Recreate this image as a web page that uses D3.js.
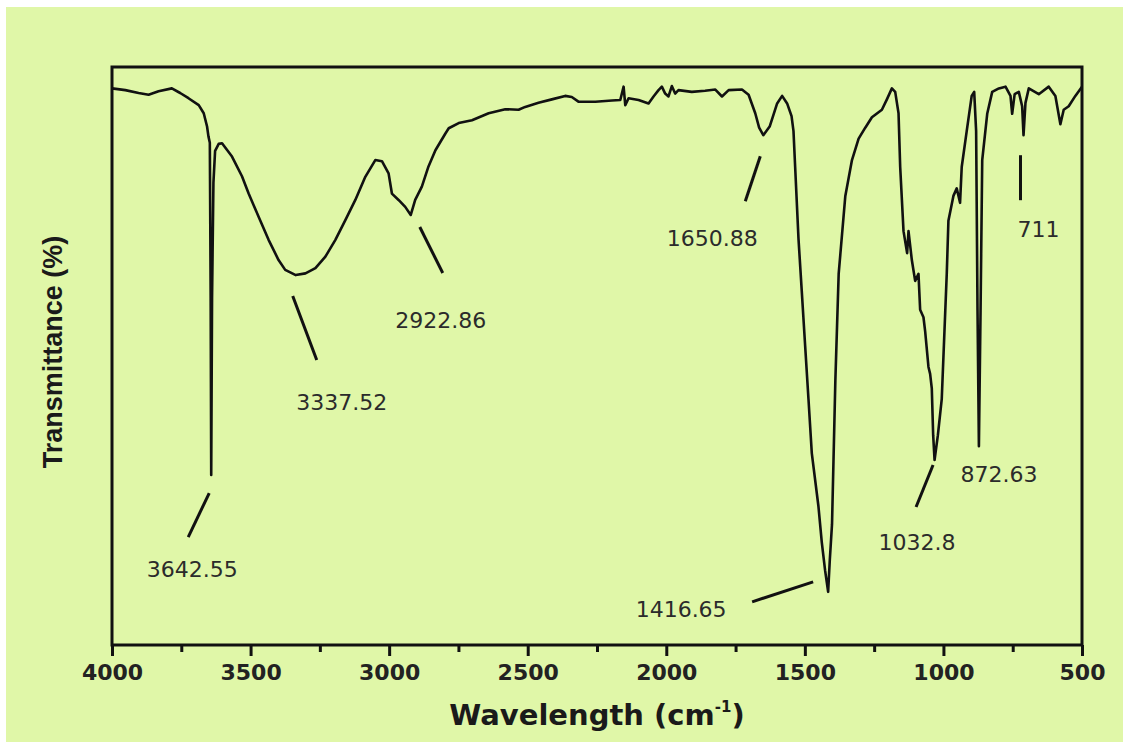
<!DOCTYPE html>
<html>
<head>
<meta charset="utf-8">
<script src="https://cdn.jsdelivr.net/npm/d3@7"></script>
<style>
  body { margin: 0; background: #ffffff; }
</style>
</head>
<body>
<div id="chart"></div>
<script>
/* Spectrum: wavenumber (cm-1) and transmittance (%), same order in both arrays. */
const wavenumber = [
  4000, 3952, 3904, 3868, 3832, 3784, 3754, 3724, 3687, 3669, 3657, 3652, 3647, 3644, 3642, 3639, 3634, 3628, 3615, 3603,
  3567, 3531, 3507, 3471, 3435, 3399, 3375, 3337, 3302, 3266, 3230, 3194, 3158, 3122, 3086, 3050, 3026, 3002, 2990, 2966,
  2942, 2922, 2906, 2882, 2858, 2833, 2797,
  2785, 2749, 2701, 2641, 2581, 2533, 2509, 2461, 2413, 2365, 2341, 2317, 2256, 2196, 2166, 2154, 2148, 2136, 2100, 2064,
  2046, 2028, 2016, 2004, 1992, 1980, 1968, 1956, 1908, 1860, 1823, 1799, 1775, 1727, 1703, 1679, 1665, 1650, 1627, 1600,
  1582, 1564,
  1548, 1541, 1535, 1523, 1511, 1499, 1487, 1475, 1451, 1439, 1427, 1416, 1410, 1402, 1390, 1378, 1354, 1330, 1306, 1282,
  1258, 1222, 1204, 1186, 1174, 1162, 1156, 1144, 1131, 1126, 1114, 1102, 1090, 1084, 1072, 1066, 1054, 1048, 1042, 1037,
  1032, 1020, 1006, 988, 982, 964, 952, 940, 934, 916, 898, 889, 882, 877, 872, 866, 860, 842, 824, 800,
  776, 758, 752, 743, 728, 716, 711, 704, 692, 656, 620, 596, 578, 566, 548, 524, 500
]

const transmittance = [
  96.3, 96.0, 95.5, 95.2, 95.8, 96.3, 95.5, 94.6, 93.4, 92.0, 89.7, 88.0, 86.9, 60.0, 29.4, 60.0, 80.0, 85.5, 86.7, 86.8,
  84.5, 81.1, 78.1, 74.1, 70.1, 66.6, 64.9, 64.0, 64.3, 65.2, 67.2, 70.1, 73.5, 77.0, 81.0, 83.9, 83.7, 81.6, 78.1, 77.0,
  75.8, 74.4, 77.0, 79.3, 82.8, 85.6, 88.5,
  89.4, 90.3, 90.8, 92.0, 92.7, 92.6, 93.1, 93.8, 94.4, 95.0, 94.8, 94.0, 94.0, 94.2, 94.3, 96.6, 93.4, 94.6, 94.3, 93.7,
  94.9, 96.0, 96.6, 95.4, 94.9, 96.7, 95.4, 96.0, 95.7, 95.9, 96.1, 94.9, 96.0, 96.1, 95.2, 92.0, 89.5, 88.2, 89.7, 93.7,
  95.0, 93.7,
  91.5, 88.9, 82.7, 70.3, 61.1, 51.8, 42.6, 33.2, 24.0, 17.8, 12.9, 9.2, 14.7, 20.9, 45.7, 64.2, 77.7, 83.9, 87.6, 89.5,
  91.3, 92.6, 94.4, 96.3, 95.7, 92.0, 82.7, 71.6, 67.8, 71.6, 66.6, 63.0, 64.2, 58.0, 56.7, 54.3, 48.1, 46.9, 44.4, 36.3,
  32.0, 36.3, 42.6, 64.2, 73.4, 77.7, 79.0, 76.5, 82.7, 88.9, 95.0, 95.7, 88.9, 58.0, 34.4, 58.0, 83.9, 91.9, 95.7, 96.3,
  96.6, 95.0, 91.9, 95.3, 95.7, 93.2, 88.2, 93.8, 96.3, 95.3, 96.6, 95.0, 90.1, 92.6, 93.2, 95.0, 96.6
]

/* Labelled peaks. */
const peakLabels = ["3642.55", "3337.52", "2922.86", "1650.88", "1416.65", "1032.8", "872.63", "711"]
const peakWavenumber = [3642, 3337, 2922, 1650, 1416, 1032, 872, 711]

/* Axis ticks. */
const majorTicks = [4000, 3500, 3000, 2500, 2000, 1500, 1000, 500]
const minorTicks = [3750, 3250, 2750, 2250, 1750, 1250, 750]

/* Leader line and label offsets (px) from each peak. */
const labelOffsets = [
  { l: [-2, 18, -23, 62], t: [-19, 102] },
  { l: [-3, 21, 21, 85], t: [46, 135] },
  { l: [9, 12, 32, 58], t: [30, 113] },
  { l: [-3, 21, -18, 66], t: [-51, 111] },
  { l: [-15, -10, -76, 10], t: [-147, 25] },
  { l: [-1.5, 5, -18.5, 47], t: [-17.5, 90] },
  { l: null, t: [20, 36] },
  { l: [-3, 20, -3, 65], t: [15, 102] }
]

const width = 1129
const height = 748

const svg = d3.select("#chart")
  .append("svg")
  .attr("width", width)
  .attr("height", height)

/* Green panel. */
svg.append("rect")
  .attr("x", 6)
  .attr("y", 7)
  .attr("width", 1117)
  .attr("height", 735)
  .attr("fill", "#e0f7a8")

const x = d3.scaleLinear().domain([4000, 500]).range([112, 1082])
const y = d3.scaleLinear().domain([0, 100]).range([645, 67])

const points = wavenumber.map((w, i) => [w, transmittance[i]])

/* Spectrum line. */
const line = d3.line()
  .x(d => x(d[0]))
  .y(d => y(d[1]))

svg.append("path")
  .datum(points)
  .attr("d", line)
  .attr("fill", "none")
  .attr("stroke", "#111")
  .attr("stroke-width", 2.6)
  .attr("stroke-linejoin", "round")

/* Frame. */
svg.append("rect")
  .attr("x", x(4000))
  .attr("y", y(100))
  .attr("width", x(500) - x(4000))
  .attr("height", y(0) - y(100))
  .attr("fill", "none")
  .attr("stroke", "#111")
  .attr("stroke-width", 3)

/* Major ticks with labels. */
const xAxis = svg.append("g")
  .attr("transform", `translate(0,${y(0)})`)
  .call(d3.axisBottom(x).tickValues(majorTicks).tickSize(11).tickPadding(8).tickFormat(d3.format("d")))

xAxis.select(".domain").remove()
xAxis.selectAll("line").attr("stroke", "#111").attr("stroke-width", 3)
xAxis.selectAll("text")
  .attr("fill", "#222")
  .attr("font-family", "DejaVu Sans, sans-serif")
  .attr("font-weight", "bold")
  .attr("font-size", "22px")

/* Minor ticks. */
const xMinor = svg.append("g")
  .attr("transform", `translate(0,${y(0)})`)
  .call(d3.axisBottom(x).tickValues(minorTicks).tickSize(7).tickFormat(""))

xMinor.select(".domain").remove()
xMinor.selectAll("line").attr("stroke", "#111").attr("stroke-width", 3)

/* Axis titles. */
const xTitle = svg.append("text")
  .attr("x", 597)
  .attr("y", 725)
  .attr("text-anchor", "middle")
  .attr("fill", "#1a1a1a")
  .attr("font-family", "DejaVu Sans, sans-serif")
  .attr("font-weight", "bold")
  .attr("font-size", "29px")

xTitle.append("tspan").text("Wavelength (cm")
xTitle.append("tspan").attr("dy", -13).attr("font-size", "15px").text("-1")
xTitle.append("tspan").attr("dy", 13).text(")")

svg.append("text")
  .attr("transform", "translate(53,352) rotate(-90)")
  .attr("text-anchor", "middle")
  .attr("dominant-baseline", "central")
  .attr("fill", "#1a1a1a")
  .attr("font-family", "Liberation Sans, Arial, sans-serif")
  .attr("font-weight", "bold")
  .attr("font-size", "27px")
  .text("Transmittance (%)")

/* Peak annotations. */
const lookup = w => transmittance[wavenumber.indexOf(w)]

const peaks = peakLabels.map((label, i) => ({
  label: label,
  px: x(peakWavenumber[i]),
  py: y(lookup(peakWavenumber[i])),
  off: labelOffsets[i]
}))

const notes = svg.append("g")

notes.selectAll("line")
  .data(peaks.filter(d => d.off.l))
  .enter()
  .append("line")
  .attr("x1", d => d.px + d.off.l[0])
  .attr("y1", d => d.py + d.off.l[1])
  .attr("x2", d => d.px + d.off.l[2])
  .attr("y2", d => d.py + d.off.l[3])
  .attr("stroke", "#111")
  .attr("stroke-width", 3)

notes.selectAll("text")
  .data(peaks)
  .enter()
  .append("text")
  .attr("x", d => d.px + d.off.t[0])
  .attr("y", d => d.py + d.off.t[1])
  .attr("text-anchor", "middle")
  .attr("fill", "#2b2b2b")
  .attr("font-family", "DejaVu Sans, sans-serif")
  .attr("font-size", "22px")
  .text(d => d.label)
</script>
</body>
</html>
